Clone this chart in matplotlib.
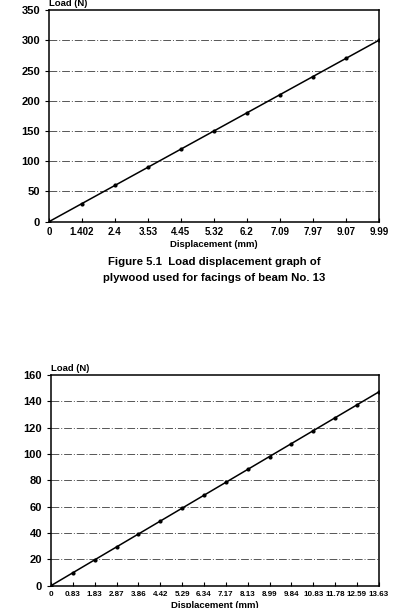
import matplotlib.pyplot as plt
import numpy as np

# Figure 5.1 - plywood facings, beam No. 13
disp_top = ['0', '1.402', '2.4', '3.53', '4.45', '5.32', '6.2', '7.09', '7.97', '9.07', '9.99']
load_top = [0, 30, 60, 90, 120, 150, 180, 210, 240, 270, 300]

# second graph (bottom)
disp_bot = ['0', '0.83', '1.83', '2.87', '3.86', '4.42', '5.29', '6.34', '7.17', '8.13',
            '8.99', '9.84', '10.83', '11.78', '12.59', '13.63']
load_bot = [0, 9.81, 19.62, 29.43, 39.24, 49.05, 58.86, 68.67, 78.48, 88.29,
            98.1, 107.91, 117.72, 127.53, 137.34, 147.15]

plt.rcParams['font.family'] = ['Liberation Sans', 'DejaVu Sans']
plt.rcParams['font.weight'] = 'bold'

fig = plt.figure(figsize=(3.95, 6.08), dpi=100)


def draw(ax, labels, loads, ymax, ystep, xfs):
    x = np.arange(len(labels))
    ax.plot(x, loads, color='black', lw=1.1, marker='o', ms=2.0, zorder=3)
    ax.set_xlim(0, len(labels) - 1)
    ax.set_ylim(0, ymax)
    ax.set_xticks(x)
    ax.set_xticklabels(labels, fontsize=xfs, fontweight='bold')
    ax.set_yticks(np.arange(0, ymax + 1, ystep))
    ax.tick_params(axis='y', labelsize=8, length=3, direction='out', width=0.8)
    ax.tick_params(axis='x', length=3, direction='in', width=0.8, pad=4)
    for lab in ax.get_yticklabels():
        lab.set_fontweight('bold')
    for y in np.arange(ystep, ymax, ystep):
        ax.axhline(y, color='#555555', lw=0.7, ls=(0, (8, 2, 1, 2)), zorder=1)
    for s in ax.spines.values():
        s.set_linewidth(1.1)
    ax.set_xlabel('Displacement (mm)', fontsize=6.8, fontweight='bold', labelpad=2)
    ax.text(0.0, 1.008, 'Load (N)', transform=ax.transAxes, fontsize=6.8,
            fontweight='bold', ha='left', va='bottom')


ax1 = fig.add_axes([0.124, 0.6354, 0.835, 0.348])
draw(ax1, disp_top, load_top, 350, 50, 7)

ax2 = fig.add_axes([0.129, 0.0367, 0.830, 0.3465])
draw(ax2, disp_bot, load_bot, 160, 20, 5.8)

fig.text(214 / 395, 1 - 262 / 608, 'Figure 5.1  Load displacement graph of',
         ha='center', va='center', fontsize=8.2, fontweight='bold')
fig.text(214 / 395, 1 - 278 / 608, 'plywood used for facings of beam No. 13',
         ha='center', va='center', fontsize=8.2, fontweight='bold')

fig.savefig('out.png', dpi=100)
